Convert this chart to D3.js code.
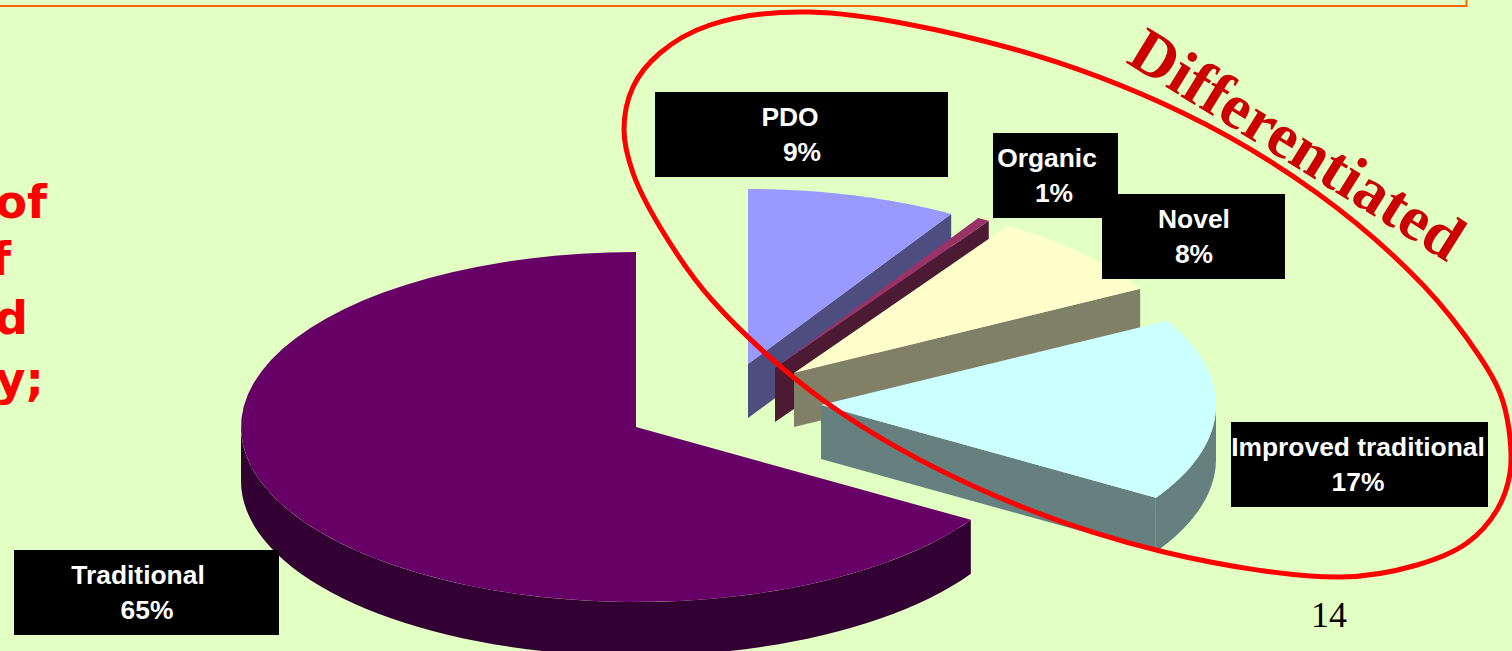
<!DOCTYPE html>
<html><head><meta charset="utf-8">
<script src="https://cdn.jsdelivr.net/npm/d3@7/dist/d3.min.js"></script>
<style>html,body{margin:0;padding:0;background:#e2ffc4;overflow:hidden}svg{display:block}</style>
</head><body><svg id="c" width="1512" height="651"></svg>
<script>
// Data
const categories = ["PDO","Organic","Novel","Improved traditional","Traditional"];
const printedPercent = [9,1,8,17,65];                 // as printed on the labels
const drawnShare = [8.6,0.5,7.9,16.9,66.1];           // slice sizes as actually drawn
const sliceColors = ["#9999ff","#993366","#ffffcc","#ccffff","#660066"];
const leftTextFragments = ["of","f","d","y;"];
const pageNumber = "14";
const bannerWord = "Differentiated";

// Layout
const W=1512,H=651,RX=395,RY=175,DEPTH=54;
const apexes=[[748,364],[775,368],[794,373],[821,405],[636,427]];
const boxes=[[655,92,293,85,790,802],[993,133,125,85,1047,1054],[1102,194,183,85,1194,1194],[1231,422,257,85,1358,1358],[14,550,265,85,138,147]];
const drawOrder=[0,1,2,4,3];
const outline=[[624,130],[633,87],[660,53],[710,25],[810,12],[1010,48],[1183,113],[1317,193],[1423,285],[1480,357],[1500,393],[1509,430],[1510,473],[1497,510],[1467,543],[1417,565],[1340,577],[1164,552],[982,490],[827,403],[712,300],[660,227],[633,173]];

const svg=d3.select("#c");
svg.append("rect").attr("width",W).attr("height",H).attr("fill","#e2ffc4");
svg.append("path").attr("d","M-5,6H1466.5V-5").attr("fill","none").attr("stroke","#ff6600").attr("stroke-width",2);

// left clipped text
const leftPos=[[47,218],[11,275],[28,334],[44,395]];
svg.selectAll("text.l").data(leftTextFragments).join("text").attr("class","l")
  .attr("x",(d,i)=>leftPos[i][0]).attr("y",(d,i)=>leftPos[i][1]).attr("text-anchor","end")
  .attr("font-family","'DejaVu Sans'").attr("font-weight","bold").attr("font-size",46).attr("fill","#ff0000").text(d=>d);

// pie
const arcs=d3.pie().sort(null).value(d=>d)(drawnShare);
const px=(a,c)=>c[0]+RX*Math.sin(a), py=(a,c)=>c[1]-RY*Math.cos(a);
const line=d3.line();
const sample=(a0,a1)=>d3.range(0,61).map(i=>a0+(a1-a0)*i/60);
const dark=c=>{const r=d3.rgb(c);return d3.rgb(r.r/2,r.g/2,r.b/2).formatHex()};
const pieG=svg.append("g");
drawOrder.forEach(i=>{
  const s=arcs[i],c=apexes[i],col=sliceColors[i],side=dark(col),g=pieG.append("g");
  const top=sample(s.startAngle,s.endAngle).map(a=>[px(a,c),py(a,c)]);
  if(s.endAngle<Math.PI){
    const e=[px(s.endAngle,c),py(s.endAngle,c)];
    g.append("path").attr("fill",side).attr("d",line([c,e,[e[0],e[1]+DEPTH],[c[0],c[1]+DEPTH]])+"Z");
  }
  const w0=Math.max(s.startAngle,Math.PI/2),w1=Math.min(s.endAngle,Math.PI*1.5);
  if(w1>w0){
    const u=sample(w0,w1).map(a=>[px(a,c),py(a,c)]);
    const l=u.map(p=>[p[0],p[1]+DEPTH]).reverse();
    g.append("path").attr("fill",side).attr("d",line(u.concat(l))+"Z");
  }
  g.append("path").attr("fill",col).attr("d",line([c].concat(top))+"Z");
});

// labels
boxes.forEach((b,i)=>{
  svg.append("rect").attr("x",b[0]).attr("y",b[1]).attr("width",b[2]).attr("height",b[3]).attr("fill","#000");
  const t=svg.append("text").attr("font-family","'Liberation Sans'").attr("font-weight","bold").attr("font-size",26.4).attr("fill","#fff").attr("text-anchor","middle");
  t.append("tspan").attr("x",b[4]).attr("y",b[1]+34).text(categories[i]);
  t.append("tspan").attr("x",b[5]).attr("y",b[1]+69).text(printedPercent[i]+"%");
});

// hand-drawn oval
svg.append("path").attr("d",d3.line().curve(d3.curveCatmullRomClosed.alpha(0.5))(outline))
  .attr("fill","none").attr("stroke","#ff0000").attr("stroke-width",5);

// banner
svg.append("defs").append("path").attr("id","bannerPath").attr("d","M1125,62 Q1285,160 1456,268");
svg.append("text").attr("font-family","'Liberation Serif'").attr("font-weight","bold").attr("font-size",63.5).attr("fill","#cc0000")
  .append("textPath").attr("href","#bannerPath").text(bannerWord);

svg.append("text").attr("x",1329).attr("y",627).attr("text-anchor","middle").attr("font-family","'Liberation Serif'").attr("font-size",36).attr("fill","#000").text(pageNumber);
</script></body></html>
